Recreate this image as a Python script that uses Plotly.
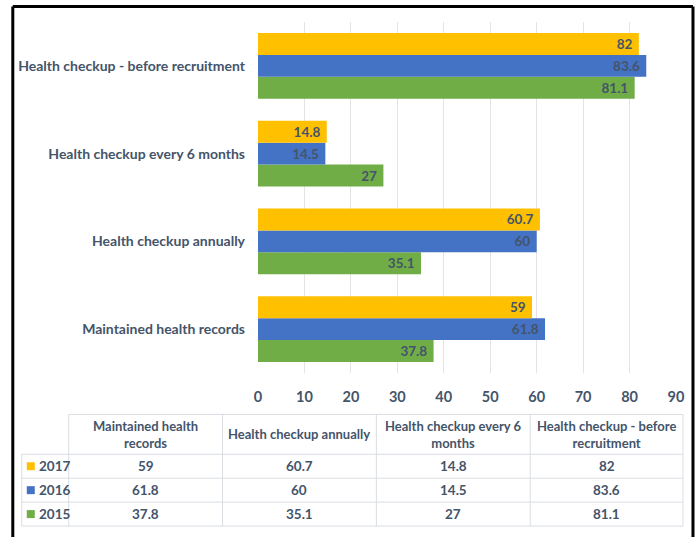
import plotly.graph_objects as go

categories = ["Maintained health records", "Health checkup annually",
              "Health checkup every 6 months", "Health checkup - before recruitment"]
header_labels = ["Maintained health<br>records", "Health checkup annually",
                 "Health checkup every 6<br>months", "Health checkup - before<br>recruitment"]
years = ["2017", "2016", "2015"]
v2017 = [59, 60.7, 14.8, 82]
v2016 = [61.8, 60, 14.5, 83.6]
v2015 = [37.8, 35.1, 27, 81.1]
x_ticks = [0, 10, 20, 30, 40, 50, 60, 70, 80, 90]

series = {"2017": v2017, "2016": v2016, "2015": v2015}
colors = {"2017": "#FFC000", "2016": "#4472C4", "2015": "#70AD47"}
TXT = "#44546A"
FONT = "Lato"

# layout geometry (pixels)
WIDTH, HEIGHT = 699, 537
L, R, T, B = 257.5, 23, 21.5, 163.5
PW = WIDTH - L - R
PH = HEIGHT - T - B


def px(x):
    return (x - L) / PW


def py(y):
    return 1 - (y - T) / PH


fig = go.Figure()
for yr in ["2015", "2016", "2017"]:
    fig.add_trace(go.Bar(
        y=categories, x=series[yr], orientation="h", name=yr,
        marker=dict(color=colors[yr], line=dict(width=0)),
        texttemplate="<b>%{x}</b>\u00a0", textposition="inside",
        insidetextanchor="end", constraintext="none",
        textfont=dict(family=FONT, size=13.5, color=TXT),
        showlegend=False,
    ))

shapes = []
annotations = []
GRID = "#D9DDE3"

# table lines
col_x = [68, 222, 376, 530, 683]
row_y = [415, 455, 479, 503, 527]
shapes.append(dict(type="line", xref="paper", yref="paper", x0=px(68), x1=px(683),
                   y0=py(415), y1=py(415), line=dict(color=GRID, width=1)))
for yy in row_y[1:]:
    shapes.append(dict(type="line", xref="paper", yref="paper", x0=px(21), x1=px(683),
                       y0=py(yy), y1=py(yy), line=dict(color=GRID, width=1)))
shapes.append(dict(type="line", xref="paper", yref="paper", x0=px(21), x1=px(21),
                   y0=py(455), y1=py(527), line=dict(color=GRID, width=1)))
for xx in col_x:
    shapes.append(dict(type="line", xref="paper", yref="paper", x0=px(xx), x1=px(xx),
                       y0=py(415), y1=py(527), line=dict(color=GRID, width=1)))

# headers
for i, h in enumerate(header_labels):
    cx = (col_x[i] + col_x[i + 1]) / 2
    annotations.append(dict(xref="paper", yref="paper", x=px(cx), y=py(435), text="<b>" + h + "</b>",
                            showarrow=False, xanchor="center", yanchor="middle",
                            font=dict(family=FONT, size=13, color=TXT)))
# rows
for r, yr in enumerate(years):
    cy = (row_y[r + 1] + row_y[r + 2]) / 2
    shapes.append(dict(type="rect", xref="paper", yref="paper", x0=px(26), x1=px(34),
                       y0=py(cy - 4), y1=py(cy + 4), fillcolor=colors[yr], line=dict(width=0)))
    annotations.append(dict(xref="paper", yref="paper", x=px(36), y=py(cy), text="<b>" + yr + "</b>",
                            showarrow=False, xanchor="left", yanchor="middle",
                            font=dict(family=FONT, size=13.5, color=TXT)))
    for i, v in enumerate(series[yr]):
        cx = (col_x[i] + col_x[i + 1]) / 2
        annotations.append(dict(xref="paper", yref="paper", x=px(cx), y=py(cy), text="<b>%s</b>" % v,
                                showarrow=False, xanchor="center", yanchor="middle",
                                font=dict(family=FONT, size=13.5, color=TXT)))

# frame
for (x0, y0, x1, y1) in [(12, 6, 693, 6), (12, 6, 12, 540), (693, 6, 693, 540)]:
    shapes.append(dict(type="line", xref="paper", yref="paper", x0=px(x0), x1=px(x1),
                       y0=py(y0), y1=py(y1), line=dict(color="black", width=3)))

fig.update_layout(
    width=WIDTH, height=HEIGHT,
    margin=dict(l=L, r=R, t=T, b=B, pad=0),
    paper_bgcolor="white", plot_bgcolor="white",
    barmode="group", bargap=0.25, bargroupgap=0,
    xaxis=dict(range=[0, 90], tickvals=x_ticks, showgrid=True, gridcolor="#E3E3E8", gridwidth=1,
               zeroline=False, showline=False, ticks="", ticklabelstandoff=13,
               tickfont=dict(family=FONT, size=14.5, color=TXT, weight="bold")),
    yaxis=dict(showgrid=False, zeroline=False, showline=False, ticks="", ticklabelstandoff=12,
               tickfont=dict(family=FONT, size=14, color=TXT, weight="bold")),
    shapes=shapes, annotations=annotations,
)

fig.write_html("out.html")
